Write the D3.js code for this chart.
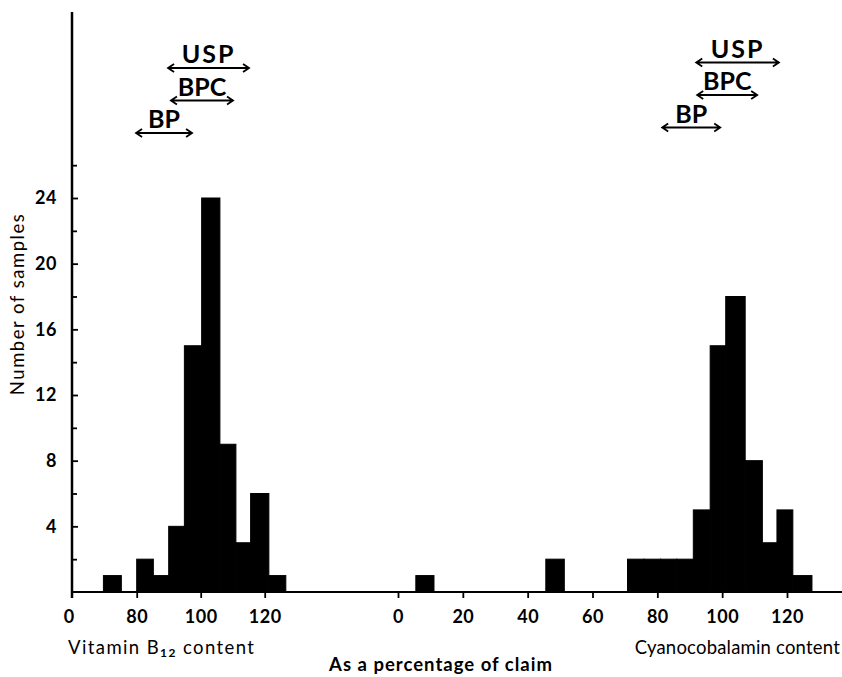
<!DOCTYPE html>
<html>
<head>
<meta charset="utf-8">
<script src="https://cdn.jsdelivr.net/npm/d3@7"></script>
<style>
  body { margin: 0; background: #fff; }
  text { font-family: "Lato", "Open Sans", sans-serif; fill: #000; }
</style>
</head>
<body>
<div id="chart"></div>
<script>
// Left histogram: vitamin B12 content (% of claim)
var b12Lo = [69.6, 80, 85.2, 90, 94.9, 100.3, 106, 111, 115.6, 121.3];
var b12Hi = [75.2, 85.2, 90, 94.9, 100.3, 106, 111, 115.6, 121.3, 126.6];
var b12Count = [1, 2, 1, 4, 15, 24, 9, 3, 6, 1];

// Right histogram: cyanocobalamin content (% of claim)
var cyanLo = [5.5, 45.6, 70.8, 75.9, 81, 86, 91.1, 96.3, 101.1, 107.1, 112.4, 116.9, 121.8];
var cyanHi = [11.1, 51.3, 75.9, 81, 86, 91.1, 96.3, 101.1, 107.1, 112.4, 116.9, 121.8, 127.7];
var cyanCount = [1, 2, 2, 2, 2, 2, 5, 15, 18, 8, 3, 5, 1];

// Pharmacopoeia limits (from, to)
var limitNames = ["USP", "BPC", "BP"];
var b12Limits = [[89.8, 115.1], [90.7, 110.1], [79.8, 97.3]];
var cyanLimits = [[92, 117.5], [92.3, 110.8], [81.5, 99.4]];

// Tick values
var yLabelTicks = [4, 8, 12, 16, 20, 24];
var yMinorTicks = [2, 6, 10, 14, 18, 22, 26];
var b12Ticks = [80, 100, 120];
var cyanTicks = [0, 20, 40, 60, 80, 100, 120];

var svgWidth = 842;
var svgHeight = 677;

var margin = { top: 12, right: 0, bottom: 85, left: 72 };
var chartWidth = svgWidth - margin.left - margin.right;
var chartHeight = svgHeight - margin.top - margin.bottom;

var svg = d3.select("#chart")
  .append("svg")
  .attr("width", svgWidth)
  .attr("height", svgHeight);

var chartGroup = svg.append("g")
  .attr("transform", `translate(${margin.left}, ${margin.top})`);

// scales
var yScale = d3.scaleLinear()
  .domain([0, 24])
  .range([chartHeight, chartHeight - 394]);

var xLeft = d3.scaleLinear()
  .domain([80, 120])
  .range([64.7, 192.7]);

var xRight = d3.scaleLinear()
  .domain([0, 120])
  .range([326, 715]);

// bars (solid black blocks, no gaps)
function drawBars(lo, hi, counts, x) {
  chartGroup.append("g")
    .selectAll("rect")
    .data(counts)
    .enter()
    .append("rect")
    .attr("x", (d, i) => x(lo[i]))
    .attr("width", (d, i) => x(hi[i]) - x(lo[i]))
    .attr("y", d => yScale(d))
    .attr("height", d => chartHeight - yScale(d))
    .attr("fill", "#000")
    .attr("stroke", "#000")
    .attr("stroke-width", 1);
}
drawBars(b12Lo, b12Hi, b12Count, xLeft);
drawBars(cyanLo, cyanHi, cyanCount, xRight);

// axes lines
chartGroup.append("line")
  .attr("x1", 0).attr("x2", chartWidth)
  .attr("y1", chartHeight).attr("y2", chartHeight)
  .attr("stroke", "#000").attr("stroke-width", 2);

chartGroup.append("line")
  .attr("x1", 0).attr("x2", 0)
  .attr("y1", 0).attr("y2", chartHeight + 6)
  .attr("stroke", "#000").attr("stroke-width", 2.5);

// y axis ticks (ticks point inwards, labels on the left)
var leftAxis = d3.axisLeft(yScale)
  .tickValues(yLabelTicks)
  .tickSizeInner(-6)
  .tickSizeOuter(0)
  .tickPadding(15);

var minorAxis = d3.axisLeft(yScale)
  .tickValues(yMinorTicks)
  .tickSizeInner(-5)
  .tickSizeOuter(0)
  .tickFormat("");

function styleAxis(g) {
  g.select(".domain").remove();
  g.selectAll(".tick line").attr("stroke", "#000").attr("stroke-width", 1.8);
  g.selectAll(".tick text")
    .attr("font-size", "18px")
    .attr("font-weight", "bold")
    .attr("letter-spacing", "0.5px")
    .attr("font-family", "Lato, sans-serif");
}

chartGroup.append("g").call(leftAxis).call(styleAxis);
chartGroup.append("g").call(minorAxis).call(styleAxis);

// x axes
var bottomLeft = d3.axisBottom(xLeft)
  .tickValues(b12Ticks)
  .tickSizeInner(6)
  .tickSizeOuter(0)
  .tickPadding(12);

var bottomRight = d3.axisBottom(xRight)
  .tickValues(cyanTicks)
  .tickSizeInner(6)
  .tickSizeOuter(0)
  .tickPadding(12);

chartGroup.append("g")
  .attr("transform", `translate(0, ${chartHeight})`)
  .call(bottomLeft).call(styleAxis);

chartGroup.append("g")
  .attr("transform", `translate(0, ${chartHeight})`)
  .call(bottomRight).call(styleAxis);

// origin label
chartGroup.append("text")
  .attr("x", -3)
  .attr("y", chartHeight + 18)
  .attr("dy", "0.71em")
  .attr("text-anchor", "middle")
  .attr("font-size", "18px")
  .attr("font-weight", "bold")
  .text("0");

// limit arrows
function drawLimits(limits, x, topY) {
  limits.forEach(function(lim, i) {
    var y = topY + i * 32.5;
    var x1 = x(lim[0]), x2 = x(lim[1]);
    var p = `M${x1},${y}H${x2}` +
      `M${x1 + 6},${y - 4}L${x1},${y}L${x1 + 6},${y + 4}` +
      `M${x2 - 6},${y - 4}L${x2},${y}L${x2 - 6},${y + 4}`;
    chartGroup.append("path")
      .attr("d", p)
      .attr("fill", "none")
      .attr("stroke", "#000")
      .attr("stroke-width", 1.8);
    chartGroup.append("text")
      .attr("x", (x1 + x2) / 2)
      .attr("y", y - 5)
      .attr("text-anchor", "middle")
      .attr("font-size", "25px")
      .attr("font-weight", "bold")
      .attr("letter-spacing", limitNames[i] === "USP" ? "2px" : "0px")
      .text(limitNames[i]);
  });
}
drawLimits(b12Limits, xLeft, 68 - margin.top);
drawLimits(cyanLimits, xRight, 62.5 - margin.top);

// axis titles
var leftTitle = svg.append("text")
  .attr("x", 68)
  .attr("y", 654)
  .attr("font-size", "18.5px")
  .attr("letter-spacing", "1.4px");
leftTitle.append("tspan").text("Vitamin B");
leftTitle.append("tspan").attr("font-size", "12px").attr("font-weight", "bold").attr("dy", 3).text("12");
leftTitle.append("tspan").attr("dy", -3).text(" content");

svg.append("text")
  .attr("x", 840)
  .attr("y", 654)
  .attr("text-anchor", "end")
  .attr("font-size", "18.5px")
  .attr("letter-spacing", "0.2px")
  .text("Cyanocobalamin content");

svg.append("text")
  .attr("x", 441)
  .attr("y", 671)
  .attr("text-anchor", "middle")
  .attr("font-size", "18.5px")
  .attr("font-weight", "bold")
  .attr("letter-spacing", "1px")
  .text("As a percentage of claim");

svg.append("text")
  .attr("transform", "rotate(-90)")
  .attr("x", -304)
  .attr("y", 24)
  .attr("text-anchor", "middle")
  .attr("font-size", "18.5px")
  .attr("letter-spacing", "1.5px")
  .text("Number of samples");
</script>
</body>
</html>
